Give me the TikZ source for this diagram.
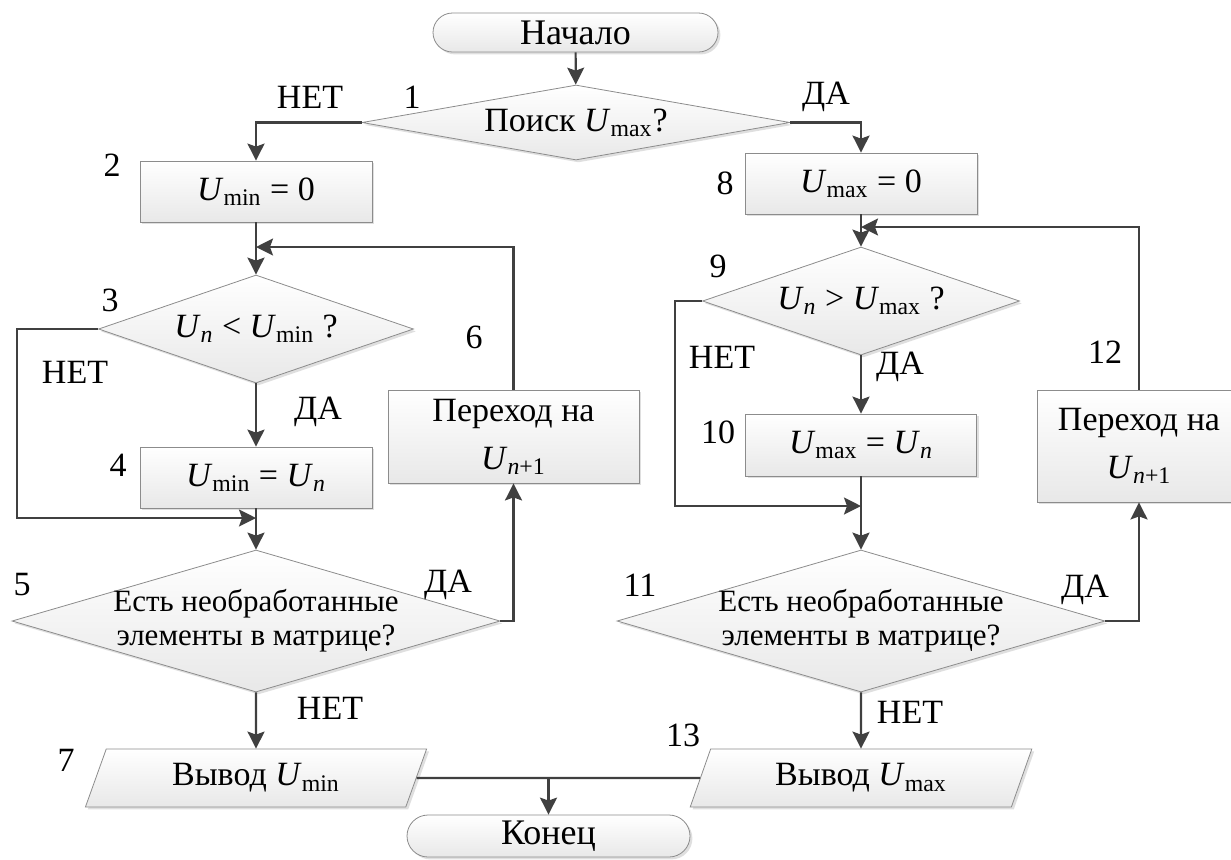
\documentclass[tikz,border=0pt]{standalone}
\usepackage{fontspec}
\setmainfont{Liberation Serif}
\usepackage{tikz}
\usetikzlibrary{arrows.meta}
\usetikzlibrary{shapes.geometric}
\usetikzlibrary{shadows}
\tikzset{>=Stealth}
\definecolor{linegray}{HTML}{404040}
\definecolor{edgegray}{HTML}{8C8C8C}
\newcommand{\Uidx}[1]{\textit{U}\textsubscript{#1}}
\tikzstyle{block} = [draw=edgegray, line width=0.4pt, top color=white, bottom color=black!9, drop shadow={shadow xshift=1.2pt, shadow yshift=-1.2pt, fill=black!25, opacity=0.5}, inner sep=0pt, align=center]
\tikzstyle{proc} = [block, rectangle]
\tikzstyle{test} = [block, diamond]
\tikzstyle{term} = [block, rectangle, rounded corners=9.75pt]
\tikzstyle{io} = [block, trapezium, trapezium left angle=68, trapezium right angle=112, trapezium stretches=true]
\tikzstyle{flow} = [-{Stealth[length=8.5pt, width=8.5pt, inset=1.5pt]}, draw=linegray, line width=1.1pt]
\tikzstyle{link} = [-, draw=linegray, line width=1.1pt]
\tikzstyle{num} = [draw=none, inner sep=0]

\begin{document}
\begin{tikzpicture}[x=0.5pt, y=-0.5pt, font=\fontsize{17}{19}\selectfont]
\useasboundingbox (0,0) rectangle (1231,859);
% blocks
\node [term, minimum width=142.5pt, minimum height=19.5pt, font=\fontsize{18}{20}\selectfont] (start) at (575.5,32.5) {Начало};
\node [test, aspect=5.7, minimum width=214pt, minimum height=37.5pt] (d1) at (576,122.5) {Поиск \Uidx{max}?};
\node [proc, minimum width=116pt, minimum height=30.5pt] (b2) at (256,191.5) {\Uidx{min} = 0};
\node [proc, minimum width=116pt, minimum height=30.5pt] (b8) at (861,183.5) {\Uidx{max} = 0};
\node [test, aspect=2.9, minimum width=157.5pt, minimum height=54pt] (d3) at (256,329) {\textit{U}\textsubscript{\textit{n}} < \Uidx{min} ?};
\node [test, aspect=2.9, minimum width=158.5pt, minimum height=54pt] (d9) at (861,301) {\textit{U}\textsubscript{\textit{n}} > \Uidx{max} ?};
\node [proc, minimum width=116pt, minimum height=30.5pt] (b4) at (256,477.5) {\Uidx{min} = \textit{U}\textsubscript{\textit{n}}};
\node [proc, minimum width=115.5pt, minimum height=31pt] (b10) at (861,445) {\Uidx{max} = \textit{U}\textsubscript{\textit{n}}};
\node [proc, minimum width=125.5pt, minimum height=46.5pt] (b6) at (513.5,436.5) {Переход на\\[5pt]\Uidx{\textit{n}+1}};
\node [proc, minimum width=102pt, minimum height=56pt] (b12) at (1139,446) {Переход на\\[5pt]\Uidx{\textit{n}+1}};
\node [test, aspect=3.4, minimum width=244pt, minimum height=71pt, inner sep=-2pt, font=\fontsize{15.5}{17}\selectfont] (d5) at (256,621) {Есть необработанные\\элементы в матрице?};
\node [test, aspect=3.4, minimum width=244pt, minimum height=71pt, inner sep=-2pt, font=\fontsize{15.5}{17}\selectfont] (d11) at (861,621) {Есть необработанные\\элементы в матрице?};
\node [io, minimum width=172pt, minimum height=29pt] (b7) at (256,778) {Вывод \Uidx{min}};
\node [io, minimum width=172pt, minimum height=29pt] (b13) at (861,778) {Вывод \Uidx{max}};
\node [term, minimum width=141.5pt, minimum height=21pt, rounded corners=10.5pt, font=\fontsize{18}{20}\selectfont] (end) at (548.5,836) {Конец};
% numbers and answers
\node [num] (n1) at (412,97) {1};
\node [num] (n2) at (112,165) {2};
\node [num] (n3) at (110,300) {3};
\node [num] (n4) at (118,465) {4};
\node [num] (n5) at (22,585) {5};
\node [num] (n6) at (474,337) {6};
\node [num] (n7) at (66,760) {7};
\node [num] (n8) at (725,183) {8};
\node [num] (n9) at (718,266) {9};
\node [num] (n10) at (718,432) {10};
\node [num] (n11) at (640,585) {11};
\node [num] (n12) at (1105,352) {12};
\node [num] (n13) at (683,735) {13};
\node [num] (no1) at (310,97) {НЕТ};
\node [num] (yes1) at (826,97) {ДА};
\node [num] (no3) at (75,372) {НЕТ};
\node [num] (yes3) at (318,412) {ДА};
\node [num] (no9) at (722,357) {НЕТ};
\node [num] (yes9) at (900,367) {ДА};
\node [num] (yes5) at (448,585) {ДА};
\node [num] (yes11) at (1085,590) {ДА};
\node [num] (no5) at (330,708) {НЕТ};
\node [num] (no11) at (910,712) {НЕТ};
% connectors
\coordinate (j3) at (256,247);
\coordinate (j5) at (256,518);
\coordinate (j9) at (861,227);
\coordinate (j11) at (861,506);
\draw [flow] (start) -- (d1);
\draw [flow] (d1.west) -| (b2.north);
\draw [flow] (d1.east) -| (b8.north);
\draw [flow] (b2) -- (d3);
\draw [flow] (b6.north) |- (j3);
\draw [flow] (d3) -- (b4);
\draw [flow] (b4) -- (d5);
\draw [flow] (d3.west) -- ++(-81,0) |- (j5);
\draw [flow] (d5.east) -| (b6.south);
\draw [flow] (d5) -- (b7);
\draw [flow] (b8) -- (d9);
\draw [flow] (b12.north) |- (j9);
\draw [flow] (d9) -- (b10);
\draw [flow] (b10) -- (d11);
\draw [flow] (d9.west) -- ++(-27,0) |- (j11);
\draw [flow] (d11.east) -| (b12.south);
\draw [flow] (d11) -- (b13);
\draw [link] (b7.east) -- (b13.west);
\draw [flow] (b7.east -| end.north) -- (end);
\end{tikzpicture}
\end{document}
